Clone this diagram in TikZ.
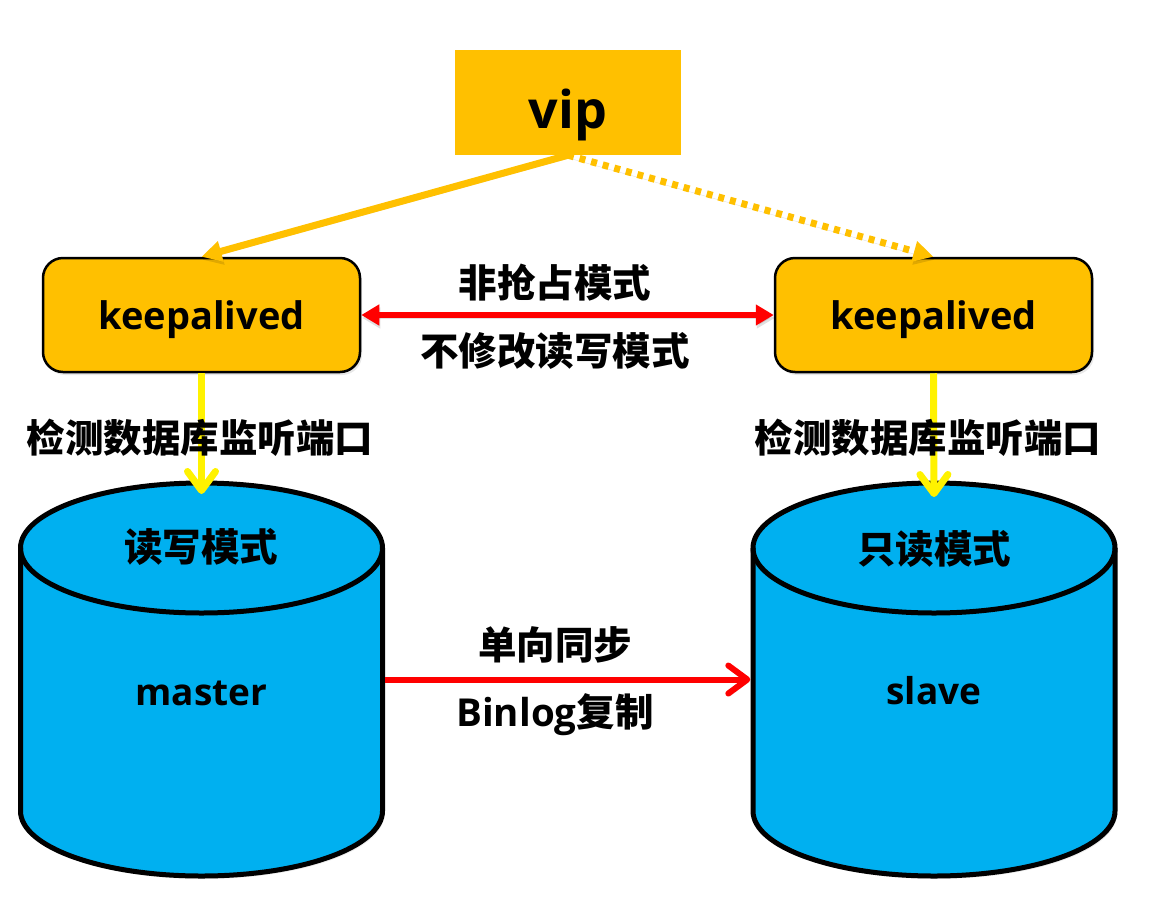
\documentclass[tikz,border=0pt]{standalone}
\usepackage{fontspec}
\setmainfont{Open Sans}
\newfontfamily\cjk{Noto Sans CJK SC}
\usetikzlibrary{arrows.meta,shadows}
\definecolor{amber}{RGB}{255,192,0}
\definecolor{skyblue}{RGB}{0,176,240}
\begin{document}
\begin{tikzpicture}[x=1pt,y=-1pt]

    \tikzset{
      keepbox/.style={
        draw=black,
        line width=2.5pt,
        fill=amber,
        rounded corners=20pt,
        minimum width=317pt,
        minimum height=114pt,
        drop shadow={opacity=0.18,shadow xshift=2pt,shadow yshift=-3pt},
      },
      dbframe/.style={
        minimum width=367pt,
        minimum height=395pt,
        inner sep=0pt,
      },
      dbstore/.pic={
        \draw[line width=5pt,fill=skyblue,drop shadow={opacity=0.15,shadow xshift=2pt,shadow yshift=-3pt}]
          (-181,-131.5) arc[start angle=180,end angle=0,x radius=181pt,y radius=65pt]
          -- (181,131.5) arc[start angle=0,end angle=-180,x radius=181pt,y radius=65pt] -- cycle;
        \draw[line width=5pt] (-181,-131.5) arc[start angle=180,end angle=360,x radius=181pt,y radius=65pt];
      },
      soft/.style={preaction={draw=black,opacity=0.12,transform canvas={shift={(1pt,-3pt)}}}},
      latin/.style={font=\fontsize{38}{44}\selectfont\bfseries},
      namelabel/.style={font=\fontsize{37}{44}\selectfont\bfseries},
      hanzi/.style={font=\fontsize{38.5}{44}\selectfont\cjk\bfseries,inner sep=0pt},
      vipline/.style={soft,color=amber,line width=7pt,-{Triangle[length=20pt,width=20pt]}},
      checkline/.style={color=yellow,line width=7pt,-{Straight Barb[length=19pt,width=28pt,round]}},
      peerline/.style={soft,color=red,line width=6pt,{Triangle[length=18pt,width=20pt]}-{Triangle[length=18pt,width=20pt]}},
      syncline/.style={soft,color=red,line width=6pt,-{Straight Barb[length=19pt,width=28pt,round]}},
    }
    \useasboundingbox (0,0) rectangle (1150,913);

    \node[fill=amber,minimum width=226pt,minimum height=105pt,inner sep=0pt] (vip) at (568,102.5) {};
    \node[keepbox] (keepl) at (201.5,315) {};
    \node[keepbox] (keepr) at (933.5,315) {};
    \pic at (201.5,679.5) {dbstore};
    \pic at (934,679.5) {dbstore};
    \node[dbframe] (master) at (201.5,679.5) {};
    \node[dbframe] (slave) at (934,679.5) {};

    \coordinate (masterin) at (201.5,494);
    \coordinate (slavein) at (934,497);

    \draw[vipline] (vip.south) -- (keepl.north);
    \draw[vipline,dash pattern=on 6pt off 6pt] (vip.south) -- (keepr.north);
    \draw[peerline] (keepl.east) -- (keepr.west);
    \draw[checkline] (keepl.south) -- (masterin);
    \draw[checkline] (keepr.south) -- (slavein);
    \draw[syncline] (master.east) -- (slave.west);

    \node[font=\fontsize{52}{60}\selectfont\bfseries] (viptext) at (568,115) {vip};
    \node[latin] (keepltext) at (201.5,320) {keepalived};
    \node[latin] (keeprtext) at (933.5,320) {keepalived};
    \node[namelabel] (mastertext) at (201.5,693) {master};
    \node[namelabel] (slavetext) at (934,691) {slave};
    \node[hanzi] (peertop) at (555,283) {非抢占模式};
    \node[hanzi] (peerbot) at (555,351) {不修改读写模式};
    \node[hanzi] (checkl) at (200,438) {检测数据库监听端口};
    \node[hanzi] (checkr) at (928,438) {检测数据库监听端口};
    \node[hanzi] (rwtext) at (201,547) {读写模式};
    \node[hanzi] (rotext) at (934,549) {只读模式};
    \node[hanzi] (synctop) at (555,645) {单向同步};
    \node[font=\fontsize{38.5}{44}\selectfont\bfseries,inner sep=0pt] (syncbot) at (555,715) {Binlog{\cjk\bfseries 复制}};

\end{tikzpicture}
\end{document}
